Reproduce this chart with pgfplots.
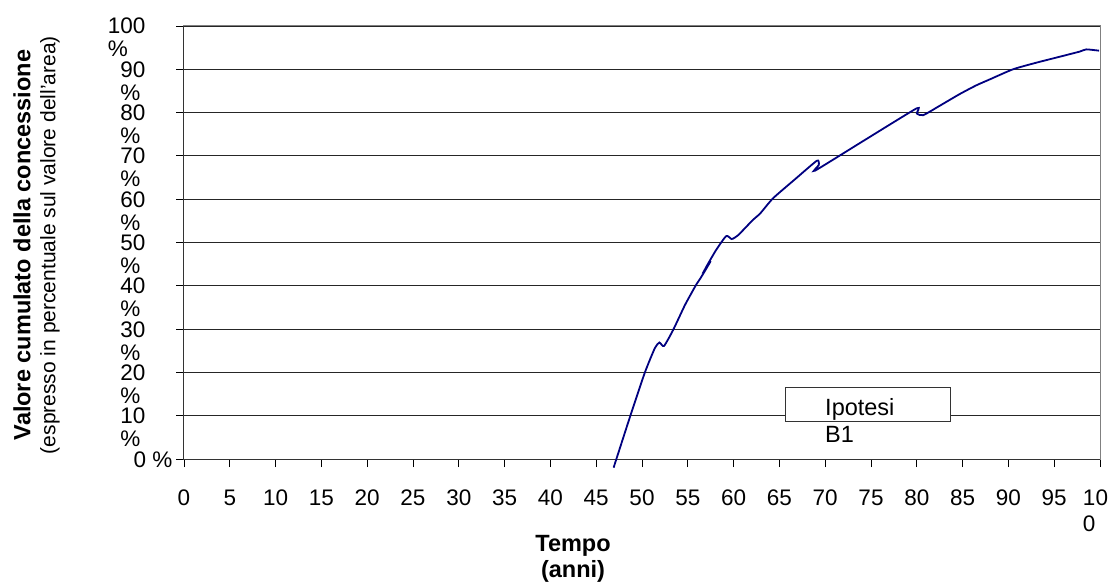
\documentclass[border=0pt]{standalone}
\usepackage{fontspec}
\setmainfont{Liberation Sans}
\usepackage{pgfplots}
\pgfplotsset{compat=1.18}
\definecolor{navyline}{RGB}{0,0,128}
\newcommand{\yl}[1]{\vtop{\hbox{#1\hspace{27pt}}\hbox{\%}}}
\begin{document}
\begin{tikzpicture}
\begin{axis}[
  name=ax,
  x=9.16pt, y=4.33pt,
  xmin=0, xmax=100, ymin=0, ymax=100,
  clip=false,
  axis line style={draw=gray, line width=1pt},
  xtick={0,5,...,100},
  xticklabels={0,5,10,15,20,25,30,35,40,45,50,55,60,65,70,75,80,85,90,95,{\vtop{\hbox{10\hspace{9pt}}\hbox{0}}}},
  ytick={0,10,...,100},
  yticklabels={{0 \%},{\yl{10}},{\yl{20}},{\yl{30}},{\yl{40}},{\yl{50}},{\yl{60}},{\yl{70}},{\yl{80}},{\yl{90}},{\yl{100}}},
  xtick pos=bottom, ytick pos=left,
  tick align=outside,
  major tick length=8pt,
  tick style={black, line width=0.8pt},
  tick label style={font=\fontsize{22.5}{26}\selectfont},
  yticklabel style={anchor=base east, yshift=-8pt, font=\fontsize{22.5}{23}\selectfont},
  xticklabel style={yshift=-19pt},
  ymajorgrids,
  major grid style={black!85, line width=0.9pt},
  ylabel={\textbf{Valore cumulato della concessione}\\\fontsize{21}{25}\selectfont(espresso in percentuale sul valore dell'area)},
  ylabel style={align=center, font=\fontsize{23.5}{25}\selectfont, at={(axis description cs:-0.161,0.494)}, anchor=center},
  xlabel={Tempo\\(anni)},
  xlabel style={align=center, font=\bfseries\fontsize{23.5}{26}\selectfont, at={(axis description cs:0.4247,-0.2298)}, anchor=center},
]
\draw[black!80, line width=1pt] (rel axis cs:0,1) -- (rel axis cs:0,0) -- (rel axis cs:1,0);
\addplot[navyline, line width=1.8pt, smooth, tension=0.35] coordinates {
(46.9,-2.0) (48.7,9.8) (50.3,19.9) (51.4,25.6) (51.9,26.9) (52.4,26.1)
(53.4,29.8) (54.7,35.6) (55.9,40.2) (56.4,41.8) (57.5,45.7) (57.0,44.3)
(58.1,48.3) (59.2,51.5) (59.8,50.8) (60.5,51.7) (62.1,55.2) (62.9,56.7)
(64.3,60.2) (66.7,64.6) (69.1,68.9) (69.3,67.9) (68.9,66.6) (74.5,73.9)
(80.0,81.0) (80.0,79.8) (80.7,79.4) (82.6,81.7) (84.7,84.3) (86.5,86.3)
(88.0,87.7) (90.5,90.0) (93.0,91.5) (95.6,92.9) (97.8,94.1) (98.5,94.6) (99.9,94.3)
};
\draw[black!80, line width=0.9pt, fill=white] (rel axis cs:0.6561,0.0878) rectangle (rel axis cs:0.8362,0.1663);
\node[anchor=base west, inner sep=0pt, font=\fontsize{23.5}{27}\selectfont] at (rel axis cs:0.6998,0.1016) {Ipotesi};
\node[anchor=base west, inner sep=0pt, font=\fontsize{23.5}{27}\selectfont] at (rel axis cs:0.6998,0.0376) {B1};
\end{axis}
\pgfresetboundingbox
\path[use as bounding box] ([shift={(-184pt,-122pt)}]ax.south west) rectangle ([shift={(11pt,26pt)}]ax.north east);
\end{tikzpicture}
\end{document}
